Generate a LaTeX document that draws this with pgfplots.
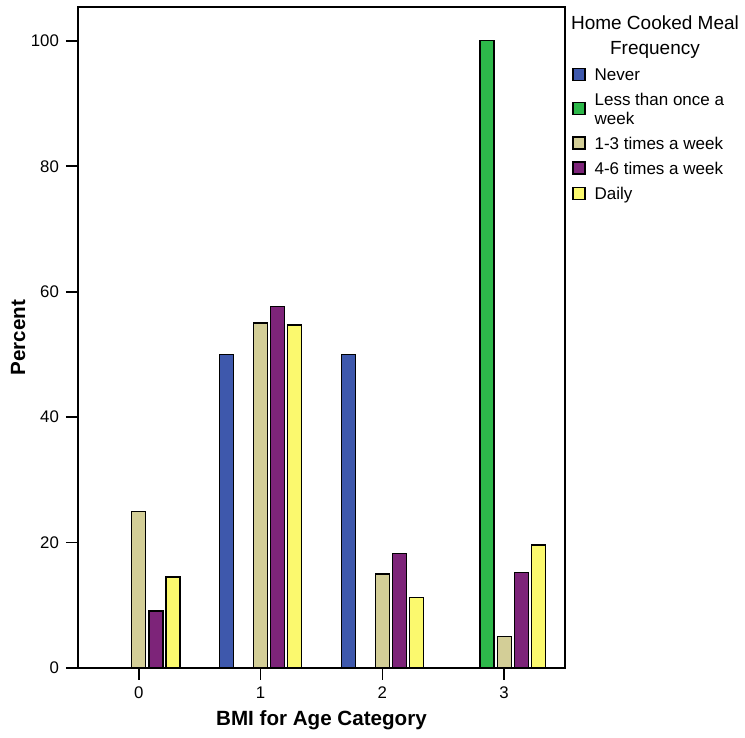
\documentclass[border=0pt]{standalone}
\usepackage{pgfplots}
\pgfplotsset{compat=1.18}
\usepackage{fontspec}
\setmainfont{Liberation Sans}
\usetikzlibrary{calc}
\definecolor{cNever}{HTML}{3E58AC}
\definecolor{cLess}{HTML}{2DB84A}
\definecolor{cOne}{HTML}{D3CE97}
\definecolor{cFour}{HTML}{7D2479}
\definecolor{cDaily}{HTML}{FBF96E}
\begin{document}
\begin{tikzpicture}
\begin{axis}[
  name=ax,
  scale only axis,
  width=243.5pt, height=330.5pt,
  xmin=-0.5, xmax=3.5,
  ymin=0, ymax=105.4,
  xtick={0,1,2,3},
  ytick={0,20,40,60,80,100},
  tick pos=left,
  tick align=outside,
  major tick length=6pt,
  axis line style={line width=0.8pt},
  every tick/.style={line width=0.8pt, black},
  /pgf/number format/assume math mode=true,
  ticklabel style={font=\fontsize{8.4}{10}\selectfont},
  xlabel={BMI for Age Category},
  ylabel={Percent},
  label style={font=\fontsize{10.3}{12}\selectfont\bfseries},
  xlabel style={at={(rel axis cs:0.5,-0.0787)}, anchor=center},
  ylabel style={at={(rel axis cs:-0.123,0.5)}, anchor=center},
  ybar,
  bar width=0.115,
  every axis plot/.append style={draw=black, line width=0.6pt},
  legend style={
    at={($(rel axis cs:1,0.917)+(1.5pt,0.6pt)$)}, anchor=north west,
    draw=none, fill=none,
    font=\fontsize{8.5}{9.3}\selectfont,
    row sep=0.9pt,
    inner xsep=2pt,
    cells={anchor=west, align=left},
    /tikz/every odd column/.append style={column sep=2.5pt},
  },
  legend image code/.code={\draw[#1, line width=0.6pt] (0pt,-2pt) rectangle (6pt,4pt);},
  clip=false,
]
\addplot[fill=cNever, bar shift=-0.28] coordinates {(0,0) (1,50) (2,50) (3,0)};
\addlegendentry{Never}
\addplot[fill=cLess, bar shift=-0.14] coordinates {(0,0) (1,0) (2,0) (3,100)};
\addlegendentry{Less than once a\\week}
\addplot[fill=cOne, bar shift=0] coordinates {(0,25) (1,55) (2,15) (3,5)};
\addlegendentry{1-3 times a week}
\addplot[fill=cFour, bar shift=0.14] coordinates {(0,9.1) (1,57.6) (2,18.2) (3,15.2)};
\addlegendentry{4-6 times a week}
\addplot[fill=cDaily, bar shift=0.28] coordinates {(0,14.5) (1,54.7) (2,11.2) (3,19.6)};
\addlegendentry{Daily}
\end{axis}
\node[anchor=north, align=center, font=\fontsize{9.5}{12.5}\selectfont, inner sep=0pt]
  at ($(ax.north east)+(45pt,-4pt)$) {Home Cooked Meal\\Frequency};
\path ($(ax.south west)+(-39pt,-35pt)$) rectangle ($(ax.north east)+(90pt,3.5pt)$);
\end{tikzpicture}
\end{document}
